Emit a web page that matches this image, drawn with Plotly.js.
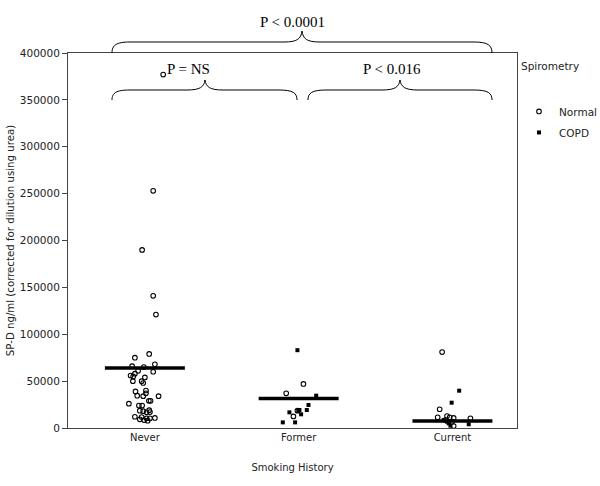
<!DOCTYPE html>
<html>
<head>
<meta charset="utf-8">
<script src="https://cdn.plot.ly/plotly-3.0.1.min.js"></script>
<style>html,body{margin:0;padding:0;background:#fff;}#chart{width:600px;height:486px;}</style>
</head>
<body>
<div id="chart"></div>
<script>
// ---- Data ----
const categories = ["Never", "Former", "Current"];
const medians = [64000, 31500, 7500];

// Normal spirometry (open circles)
const normalNever = [253000,190000,141000,121000,75000,79000,66000,65000,68000,61000,60000,58000,56000,55000,54000,50000,50000,48000,39000,40000,34500,37000,34000,34000,29000,29000,26000,24000,24000,19000,18500,18000,16700,17000,12000,11700,10300,10300,10700,9300,8500,7800,377000];
const normalNeverJitter = [0.054,-0.018,0.054,0.072,-0.065,0.028,-0.083,-0.007,0.065,-0.044,0.054,-0.065,-0.093,-0.076,0.0,-0.021,-0.078,-0.011,-0.061,0.007,-0.05,0.007,-0.011,0.089,0.026,0.037,-0.104,-0.039,-0.018,0.028,-0.033,-0.011,0.011,0.033,-0.065,-0.021,0.011,0.033,0.065,-0.033,-0.005,0.018,0.119];
const normalFormer = [47000,37000,18500,12400];
const normalFormerJitter = [0.031,-0.081,-0.008,-0.034];
const normalCurrent = [81000,20000,11400,12800,11400,10700,6700,10300,8500,2100];
const normalCurrentJitter = [-0.067,-0.083,-0.096,-0.035,-0.018,0.008,-0.002,0.117,-0.046,0.008];

// COPD (filled squares)
const copdFormer = [83000,34500,24500,19200,19200,18100,14600,16700,6000,6000];
const copdFormerJitter = [-0.008,0.114,0.064,0.053,0.005,-0.003,0.016,-0.06,-0.103,-0.023];
const copdCurrent = [39800,27000,8500,5000,2500,4000,6700];
const copdCurrentJitter = [0.044,-0.005,-0.057,-0.024,-0.013,0.106,-0.035];

const pValues = ["P &lt; 0.0001", "P = NS", "P &lt; 0.016"];

// ---- Build ----
function place(idx, jit) { return jit.map(j => idx + j); }

const normalX = [].concat(place(0, normalNeverJitter), place(1, normalFormerJitter), place(2, normalCurrentJitter));
const normalY = [].concat(normalNever, normalFormer, normalCurrent);
const copdX = [].concat(place(1, copdFormerJitter), place(2, copdCurrentJitter));
const copdY = [].concat(copdFormer, copdCurrent);

const traces = [];
const halfW = 0.26;
medians.forEach((m, i) => {
  traces.push({
    x: [i - halfW, i + halfW], y: [m, m], mode: "lines", type: "scatter",
    line: {color: "#000", width: 3.5}, showlegend: false, hoverinfo: "skip"
  });
});
traces.push({
  x: normalX, y: normalY, mode: "markers", type: "scatter", name: "Normal", legendgroup: "n",
  marker: {symbol: "circle-open", size: 4.6, color: "#000", line: {width: 1.1, color: "#000"}}
});
traces.push({
  x: copdX, y: copdY, mode: "markers", type: "scatter", name: "COPD", legendgroup: "c",
  marker: {symbol: "square", size: 4, color: "#000"}
});

// plot-area geometry (pixels) for decorations
const L = 68, R = 83, T = 53, B = 58, W = 600 - L - R, H = 486 - T - B;
const px = x => (x - L) / W;
const py = y => (486 - B - y) / H;

function brace(x0, x1, xm, yb, h) {
  const yf = yb - h * 0.5, yt = yb - h;
  const c = 18;
  const P = (x, y) => px(x).toFixed(5) + "," + py(y).toFixed(5);
  return "M" + P(x0, yb) +
    " C" + P(x0, yb - h * 0.35) + " " + P(x0 + 4, yf) + " " + P(x0 + c, yf) +
    " L" + P(xm - c, yf) +
    " C" + P(xm - 5, yf) + " " + P(xm - 1, yf - 3) + " " + P(xm, yt) +
    " C" + P(xm + 1, yf - 3) + " " + P(xm + 5, yf) + " " + P(xm + c, yf) +
    " L" + P(x1 - c, yf) +
    " C" + P(x1 - 4, yf) + " " + P(x1, yb - h * 0.35) + " " + P(x1, yb);
}

const shapes = [
  {type: "path", xref: "paper", yref: "paper", path: brace(112, 492, 302, 53, 22), line: {color: "#000", width: 1}},
  {type: "path", xref: "paper", yref: "paper", path: brace(112, 297, 205, 100, 20), line: {color: "#000", width: 1}},
  {type: "path", xref: "paper", yref: "paper", path: brace(308, 492, 400, 100, 20), line: {color: "#000", width: 1}}
];

const pFont = {family: "Liberation Serif, Times New Roman, serif", size: 15, color: "#000"};
const annotations = [
  {text: pValues[0], x: px(292), y: py(22), xref: "paper", yref: "paper", showarrow: false, font: pFont, xanchor: "center", yanchor: "middle"},
  {text: pValues[1], x: px(188), y: py(69), xref: "paper", yref: "paper", showarrow: false, font: pFont, xanchor: "center", yanchor: "middle"},
  {text: pValues[2], x: px(392), y: py(69), xref: "paper", yref: "paper", showarrow: false, font: pFont, xanchor: "center", yanchor: "middle"}
];

const layout = {
  width: 600, height: 486,
  margin: {l: L, r: R, t: T, b: B, autoexpand: false},
  paper_bgcolor: "#fff", plot_bgcolor: "#fff",
  font: {family: "DejaVu Sans, sans-serif", size: 10.5, color: "#222"},
  showlegend: true,
  legend: {
    x: px(519), xanchor: "left", y: py(56), yanchor: "top",
    title: {text: "Spirometry<br><br>", font: {size: 10.5}},
    font: {size: 10.5}, bgcolor: "rgba(0,0,0,0)", itemwidth: 30, tracegroupgap: 2
  },
  xaxis: {
    range: [-0.5, 2.42], tickmode: "array", tickvals: [0, 1, 2], ticktext: categories,
    showgrid: false, zeroline: false, showline: true, linecolor: "#444", linewidth: 1,
    mirror: true, ticks: "", tickfont: {size: 10},
    title: {text: "Smoking History", font: {size: 10}, standoff: 21}
  },
  yaxis: {
    range: [0, 400000], dtick: 50000, tick0: 0, tickformat: "d",
    showgrid: false, zeroline: false, showline: true, linecolor: "#444", linewidth: 1,
    mirror: true, ticks: "outside", ticklen: 5, tickcolor: "#444", tickfont: {size: 10.5},
    title: {text: "SP-D ng/ml (corrected for dilution using urea)", font: {size: 10.2}, standoff: 3}
  },
  shapes: shapes,
  annotations: annotations
};

Plotly.newPlot("chart", traces, layout, {displayModeBar: false, staticPlot: true});
</script>
</body>
</html>
